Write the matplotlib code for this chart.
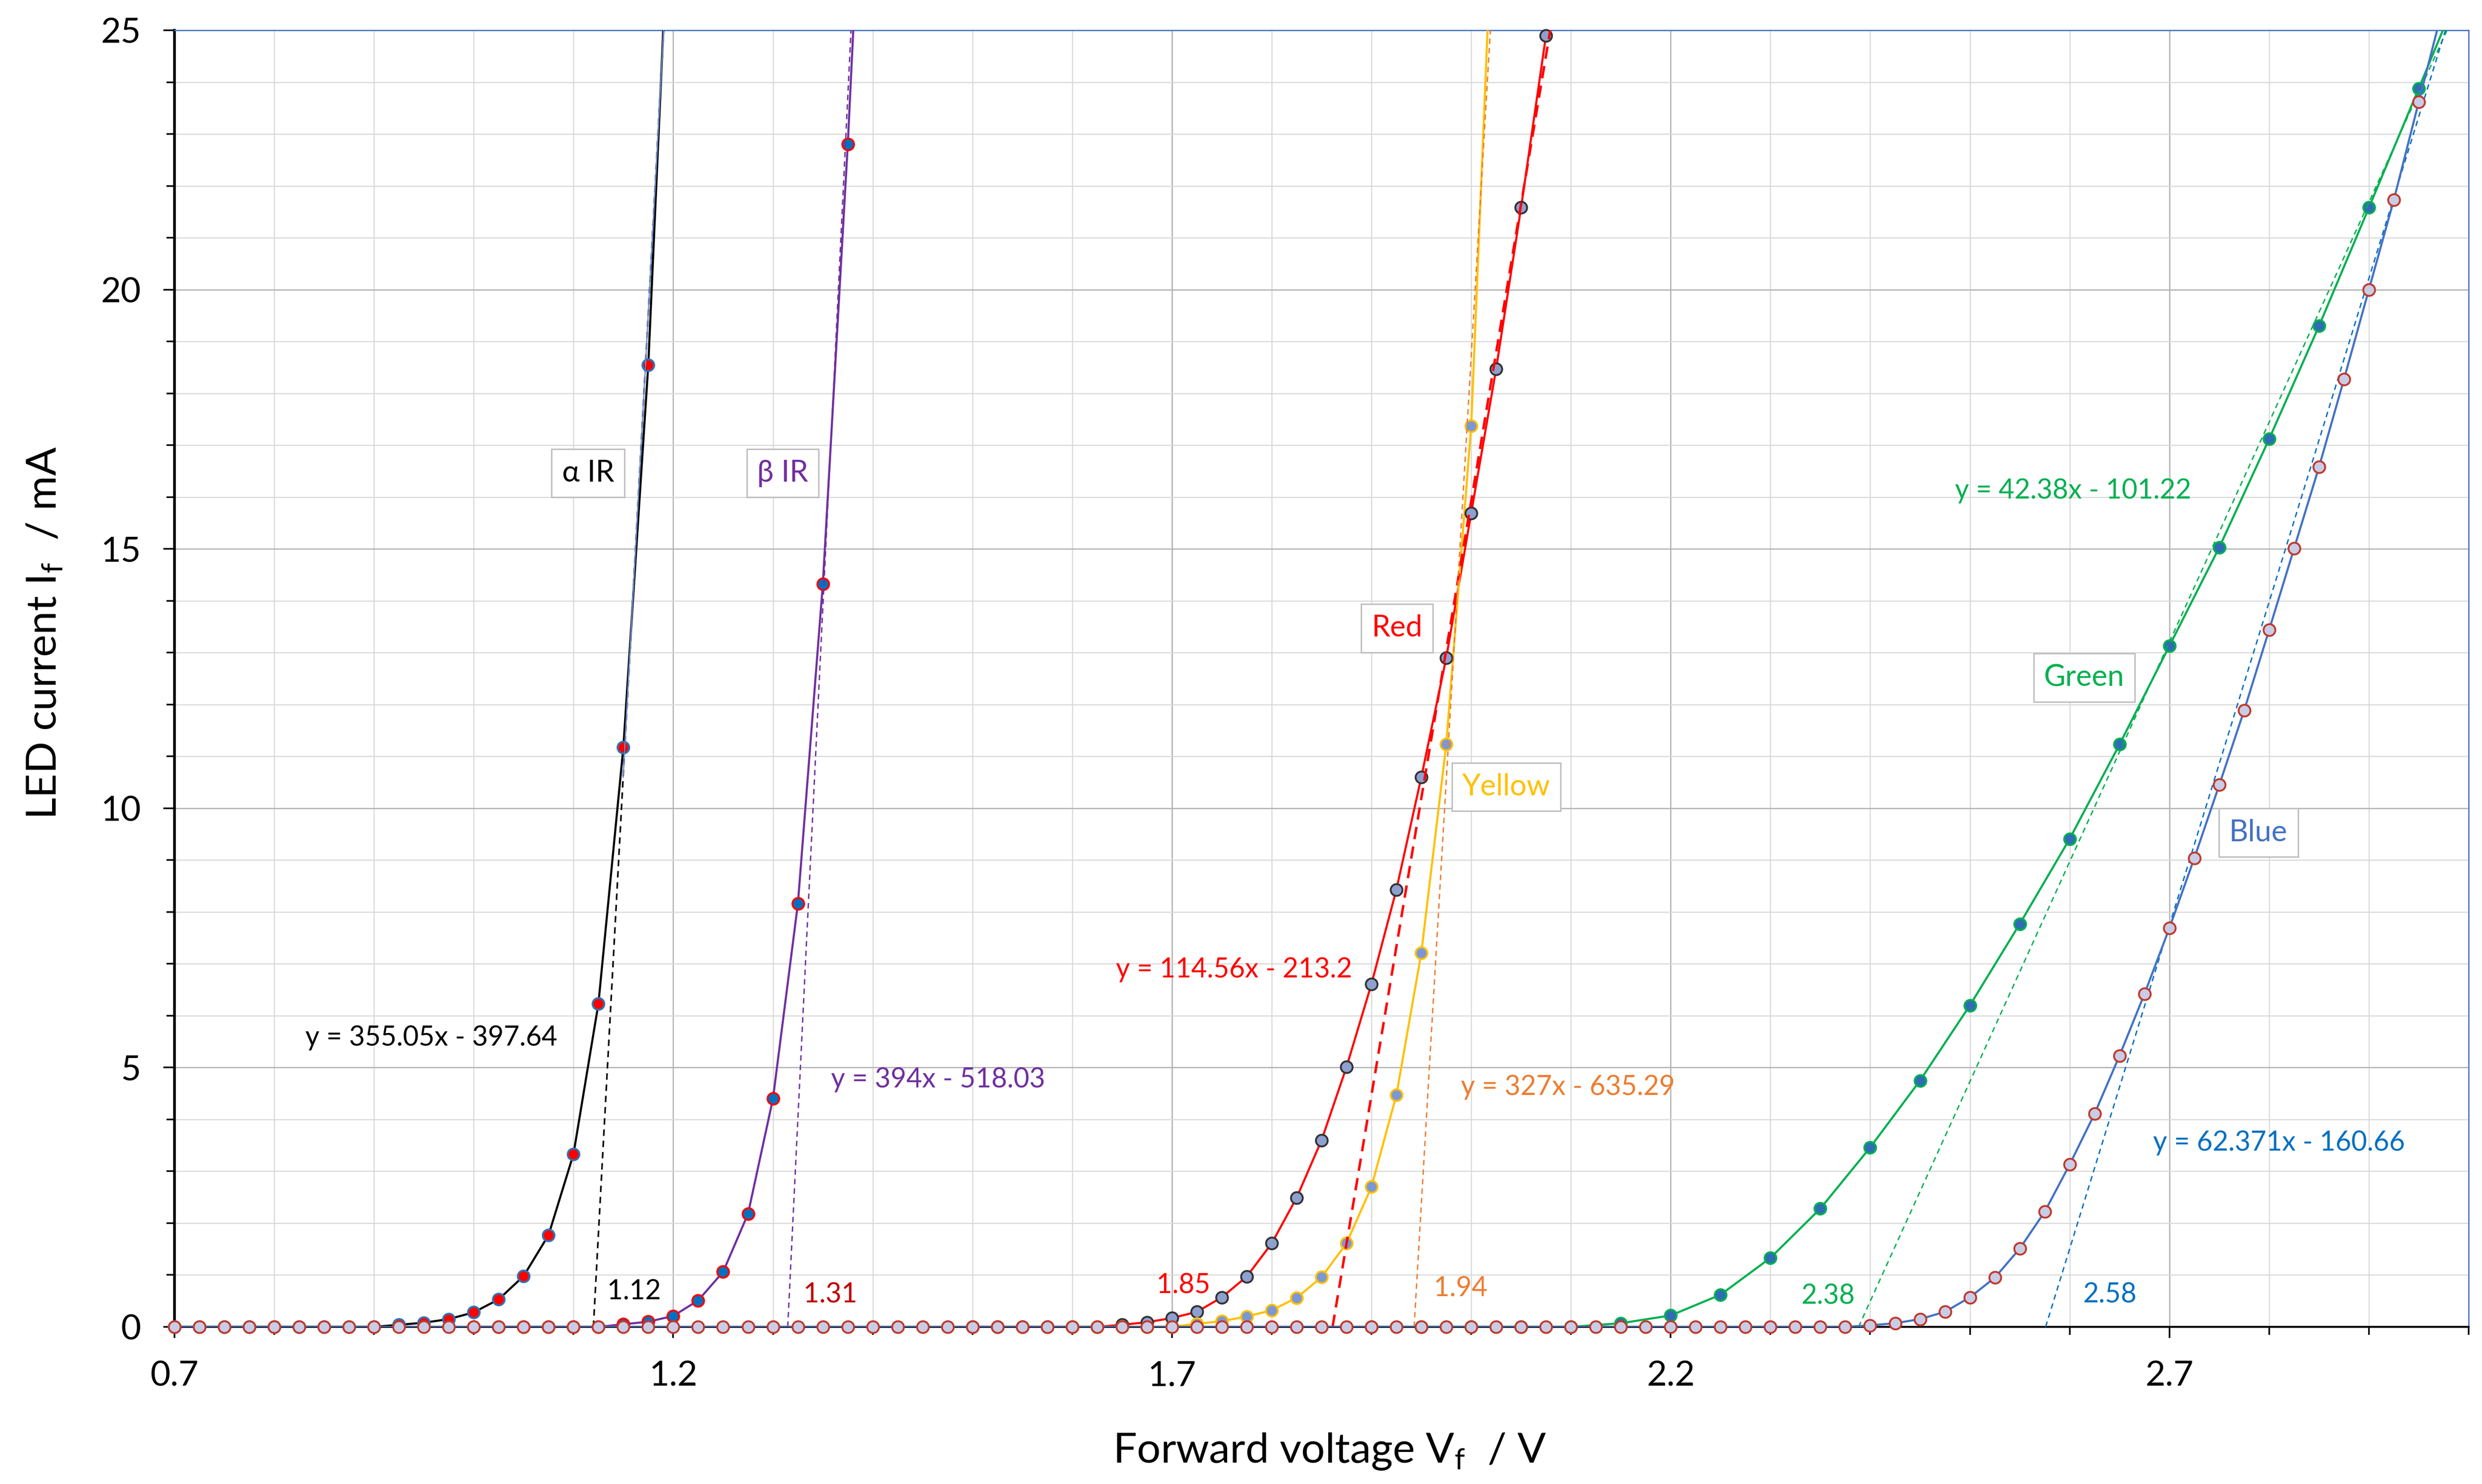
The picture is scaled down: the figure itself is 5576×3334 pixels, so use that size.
import numpy as np
import matplotlib
matplotlib.use("Agg")
import matplotlib.pyplot as plt

plt.rcParams['font.family'] = ['Lato', 'DejaVu Sans']
plt.rcParams['mathtext.fontset'] = 'custom'
plt.rcParams['mathtext.rm'] = 'Lato'

### Measured I-V points (voltage grid start, step, current in mA)
alpha_v0, alpha_step = 0.7, 0.025
alpha_i = [0.0, 0.0, 0.0, 0.0, 0.0, 0.0, 0.0, 0.0, 0.0,
           0.04, 0.08, 0.15, 0.28, 0.53, 0.98, 1.77, 3.33, 6.23, 11.17, 18.55, 29.3]

beta_v0, beta_step = 1.0, 0.025
beta_i = [0.0, 0.0, 0.0, 0.0, 0.0, 0.0,
          0.05, 0.1, 0.21, 0.51, 1.06, 2.18, 4.40, 8.16, 14.32, 22.8, 32.8]

red_v0, red_step = 1.5, 0.025
red_i = [0.0, 0.0, 0.0, 0.0, 0.0, 0.0,
         0.04, 0.09, 0.17, 0.29, 0.57, 0.97, 1.61, 2.49, 3.6, 5.01, 6.61, 8.43,
         10.6, 12.9, 15.69, 18.47, 21.58, 24.9, 28.4]

yellow_v0, yellow_step = 1.6, 0.025
yellow_i = [0.0, 0.0, 0.0, 0.0, 0.0,
            0.06, 0.11, 0.2, 0.32, 0.56, 0.96, 1.61, 2.7, 4.47, 7.21, 11.23, 17.37, 29.0]

green_v0, green_step = 1.9, 0.05
green_i = [0.0, 0.0, 0.0, 0.0, 0.0,
           0.07, 0.22, 0.62, 1.33, 2.28, 3.46, 4.75, 6.2, 7.77, 9.41, 11.23, 13.13,
           15.03, 17.12, 19.3, 21.58, 23.88, 26.2]

blue_v0, blue_step = 0.7, 0.025
blue_i = [0.0, 0.0, 0.0, 0.0, 0.0, 0.0, 0.0, 0.0, 0.0, 0.0, 0.0, 0.0, 0.0, 0.0, 0.0, 0.0, 0.0,
          0.0, 0.0, 0.0, 0.0, 0.0, 0.0, 0.0, 0.0, 0.0, 0.0, 0.0, 0.0, 0.0, 0.0, 0.0, 0.0, 0.0,
          0.0, 0.0, 0.0, 0.0, 0.0, 0.0, 0.0, 0.0, 0.0, 0.0, 0.0, 0.0, 0.0, 0.0, 0.0, 0.0, 0.0,
          0.0, 0.0, 0.0, 0.0, 0.0, 0.0, 0.0, 0.0, 0.0, 0.0, 0.0, 0.0, 0.0, 0.0, 0.0, 0.0, 0.0,
          0.03, 0.07, 0.15, 0.29, 0.57, 0.95, 1.51, 2.22, 3.13, 4.11, 5.23, 6.42, 7.69,
          9.04, 10.45, 11.89, 13.44, 15.01, 16.58, 18.27, 20.0, 21.73, 23.62, 25.5]

### Linear fits of the steep part (slope, intercept) and their threshold labels
fit_slope = [355.05, 394.0, 114.56, 327.0, 42.38, 62.371]
fit_icpt = [-397.64, -518.03, -213.2, -635.29, -101.22, -160.66]
fit_text = ["y = 355.05x - 397.64", "y = 394x - 518.03", "y = 114.56x - 213.2",
            "y = 327x - 635.29", "y = 42.38x - 101.22", "y = 62.371x - 160.66"]
thresh_text = ["1.12", "1.31", "1.85", "1.94", "2.38", "2.58"]
names = ["\u03b1 IR", "\u03b2 IR", "Red", "Yellow", "Green", "Blue"]


def volts(v0, step, vals):
    return v0 + step * np.arange(len(vals))


fig = plt.figure(figsize=(27.88, 16.67), dpi=200)
ax = fig.add_axes([392 / 5576, 1 - 2981 / 3334, (5546 - 392) / 5576, (2981 - 68) / 3334])

ax.set_xlim(0.7, 3.0)
ax.set_ylim(0, 25)

# Grid
ax.set_xticks([0.7, 1.2, 1.7, 2.2, 2.7])
ax.set_xticklabels(["0.7", "1.2", "1.7", "2.2", "2.7"])
ax.set_xticks(np.arange(0.7, 3.001, 0.1), minor=True)
ax.set_yticks([0, 5, 10, 15, 20, 25])
ax.set_yticks(np.arange(0, 25.01, 1), minor=True)
ax.grid(which='minor', color='#D9D9D9', lw=0.9, zorder=0)
ax.grid(which='major', color='#B3B3B3', lw=1.0, zorder=0)
ax.set_axisbelow(True)
ax.tick_params(axis='both', which='major', direction='out', length=9, width=1.3,
               labelsize=28, pad=18, color='black')
ax.tick_params(axis='both', which='minor', direction='out', length=6.5, width=1.3, color='black')

for s in ['top', 'right']:
    ax.spines[s].set_color('#4472C4')
    ax.spines[s].set_linewidth(1.0)
ax.spines['left'].set_linewidth(2.2)
ax.spines['bottom'].set_linewidth(1.6)

ms = 9.5
mew = 1.5

# (v0, step, currents, line colour, marker face, marker edge, z)
series = [(alpha_v0, alpha_step, alpha_i, 'black', '#FF0000', '#2E75B6', 4),
          (beta_v0, beta_step, beta_i, '#7030A0', '#0070C0', '#FF0000', 4),
          (red_v0, red_step, red_i, '#FF0000', '#8EA0D0', '#333333', 4),
          (yellow_v0, yellow_step, yellow_i, '#FFC000', '#7B97D6', '#FFC000', 4),
          (green_v0, green_step, green_i, '#00B050', '#2E6DB4', '#00B050', 4),
          (blue_v0, blue_step, blue_i, '#4472C4', '#C9CCE6', '#C0392B', 6)]  # blue on top

for v0, step, cur, lc, fc, ec, z in series:
    v = volts(v0, step, cur)
    cur = np.array(cur)
    ax.plot(v, cur, '-', color=lc, lw=1.7, zorder=z)
    inside = cur <= 25
    # markers are not clipped, so the zero row shows full circles on the axis
    ax.plot(v[inside], cur[inside], 'o', ls='none', ms=ms, mfc=fc, mec=ec, mew=mew,
            zorder=z + 0.5, clip_on=False)

# Tangent lines from I = 0 up to the top of the plot
fit_style = [('black', 1.3, (0, (4, 3))),
             ('#7030A0', 1.1, (0, (4, 3))),
             ('#FF0000', 2.0, (0, (5, 3))),
             ('#ED7D31', 1.1, (0, (4, 3))),
             ('#00B050', 1.1, (0, (4, 3))),
             ('#0070C0', 1.1, (0, (4, 3)))]
for m, b, (c, lw, ls) in zip(fit_slope, fit_icpt, fit_style):
    y_end = np.array([0.0, 25.0])
    ax.plot((y_end - b) / m, y_end, color=c, lw=lw, ls=ls, zorder=5)
# thin solid overlay on the upper part of the alpha IR tangent
y_up = np.array([10.6, 25.0])
ax.plot((y_up - fit_icpt[0]) / fit_slope[0], y_up, color='#6F8FD0', lw=1.0, zorder=5)

# Labels in boxes
box_pos = [(1.1146, 16.46), (1.3098, 16.46), (1.9257, 13.47),
           (2.0352, 10.41), (2.6146, 12.52), (2.7892, 9.53)]
box_col = ['black', '#7030A0', '#FF0000', '#FFC000', '#00B050', '#4472C4']
for (x, y), t, c in zip(box_pos, names, box_col):
    ax.text(x, y, t, color=c, fontsize=24, ha='center', va='center', zorder=8,
            bbox=dict(boxstyle='square,pad=0.35', fc='white', ec='#BFBFBF', lw=1.2))

eq_pos = [(0.9575, 5.57), (1.4654, 4.77), (1.7622, 6.89),
          (2.0971, 4.62), (2.6035, 16.12), (2.8098, 3.55)]
eq_col = ['black', '#7030A0', '#FF0000', '#ED7D31', '#00B050', '#0070C0']
for (x, y), t, c in zip(eq_pos, fit_text, eq_col):
    ax.text(x, y, t, color=c, fontsize=22, ha='center', va='center', zorder=8)

th_pos = [(1.1607, 0.68), (1.3575, 0.62), (1.7114, 0.80),
          (1.9892, 0.74), (2.3575, 0.59), (2.6400, 0.62)]
th_col = ['black', '#C00000', '#FF0000', '#ED7D31', '#00B050', '#0070C0']
for (x, y), t, c in zip(th_pos, thresh_text, th_col):
    ax.text(x, y, t, color=c, fontsize=22, ha='center', va='center', zorder=8)

# Axis titles
fig.text(2987 / 5576, 1 - 3261 / 3334, r"Forward voltage V$_\mathregular{f}$  / V",
         fontsize=34, ha='center', va='center')
fig.text(100 / 5576, 1 - 1422 / 3334, r"LED current I$_\mathregular{f}$  / mA",
         fontsize=34, ha='center', va='center', rotation=90)

fig.savefig("out.png", dpi=200)
